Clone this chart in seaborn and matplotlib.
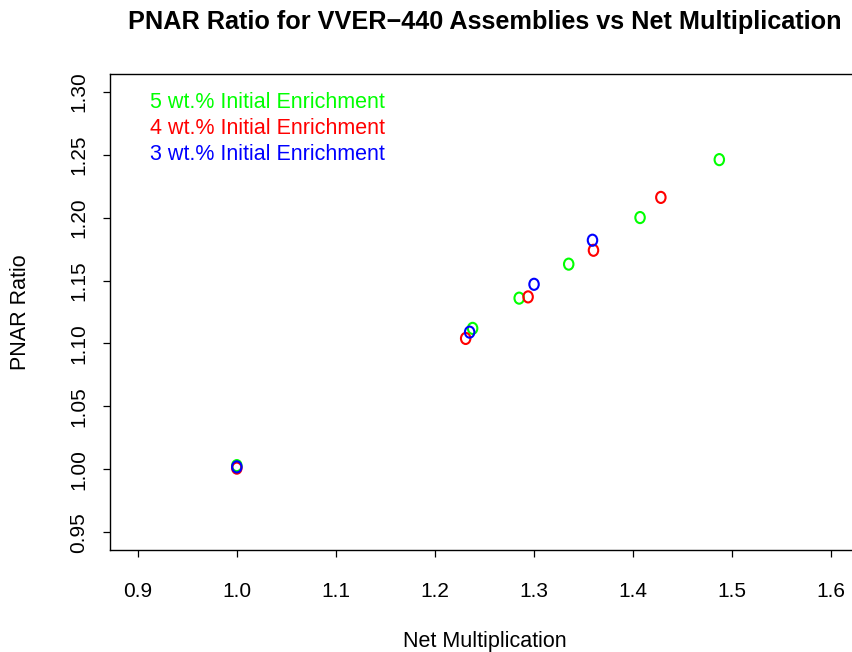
import numpy as np
import pandas as pd
import matplotlib
matplotlib.use("Agg")
import matplotlib.pyplot as plt
from matplotlib.path import Path
from matplotlib.transforms import Affine2D
import seaborn as sns

# ---- data ----
series_labels = ["5 wt.% Initial Enrichment", "4 wt.% Initial Enrichment", "3 wt.% Initial Enrichment"]
series_colors = ["#00FF00", "#FF0000", "#0000FF"]

x5 = [1.000, 1.238, 1.285, 1.335, 1.407, 1.487]
y5 = [1.003, 1.112, 1.136, 1.163, 1.200, 1.246]
x4 = [1.000, 1.231, 1.294, 1.360, 1.428]
y4 = [1.001, 1.104, 1.137, 1.174, 1.216]
x3 = [1.000, 1.235, 1.300, 1.359]
y3 = [1.002, 1.109, 1.147, 1.182]

x_ticks = [0.9, 1.0, 1.1, 1.2, 1.3, 1.4, 1.5, 1.6]
y_ticks = [0.95, 1.00, 1.05, 1.10, 1.15, 1.20, 1.25, 1.30]

sns.set_style("white")
plt.rcParams["font.family"] = ["Liberation Sans", "DejaVu Sans"]
plt.rcParams["text.color"] = "black"
plt.rcParams["axes.labelcolor"] = "black"
plt.rcParams["xtick.color"] = "black"
plt.rcParams["ytick.color"] = "black"

W, H = 852, 652
fig = plt.figure(figsize=(W/100, H/100), dpi=100)
box_l, box_r, box_t, box_b = 110, 859, 74, 550
ax = fig.add_axes([box_l/W, 1-box_b/H, (box_r-box_l)/W, (box_b-box_t)/H])

ell = Path.unit_circle().transformed(Affine2D().scale(0.85, 1.0))

for xs, ys, col in [(x5, y5, series_colors[0]), (x4, y4, series_colors[1]), (x3, y3, series_colors[2])]:
    df = pd.DataFrame({"x": xs, "y": ys})
    sns.scatterplot(data=df, x="x", y="y", ax=ax, marker=ell, s=64,
                    facecolors="none", edgecolors=col, linewidth=1.5, legend=False)

xr = 1.6 - 0.9
yr = 1.30 - 0.95
ax.set_xlim(0.9 - 0.04*xr, 1.6 + 0.04*xr)
ax.set_ylim(0.95 - 0.04*yr, 1.30 + 0.04*yr)
ax.set_xticks(x_ticks)
ax.set_xticklabels([f"{v:.1f}" for v in x_ticks])
ax.set_yticks(y_ticks)
ax.set_yticklabels([f"{v:.2f}" for v in y_ticks], rotation=90, va="center")

for s in ax.spines.values():
    s.set_visible(True)
    s.set_color("black")
    s.set_linewidth(1.0)

ax.tick_params(axis="both", direction="out", length=5.2, width=0.9, color="black",
               labelsize=15, labelcolor="black", bottom=True, left=True)
ax.tick_params(axis="x", pad=18)
ax.tick_params(axis="y", pad=10.5)

ax.set_xlabel("Net Multiplication", fontsize=15.5)
ax.set_ylabel("PNAR Ratio", fontsize=15.5)
ax.xaxis.label.set_va("center")
ax.yaxis.label.set_va("center")
inv = ax.transAxes.inverted()
ax.xaxis.set_label_coords(*inv.transform(fig.transFigure.transform(((box_l+box_r)/2/W, 1-642/H))))
ax.yaxis.set_label_coords(*inv.transform(fig.transFigure.transform((20/W, 1-((box_t+box_b)/2)/H))))

fig.text((box_l+box_r)/2/W, 1-28.5/H, "PNAR Ratio for VVER\u2212440 Assemblies vs Net Multiplication",
         ha="center", va="baseline", fontsize=18.2, fontweight="bold")

for i, (lab, col) in enumerate(zip(series_labels, series_colors)):
    fig.text(150/W, 1-(108 + 26*i)/H, lab, color=col, fontsize=15.5, ha="left", va="baseline")

fig.savefig("out.png", dpi=100)
